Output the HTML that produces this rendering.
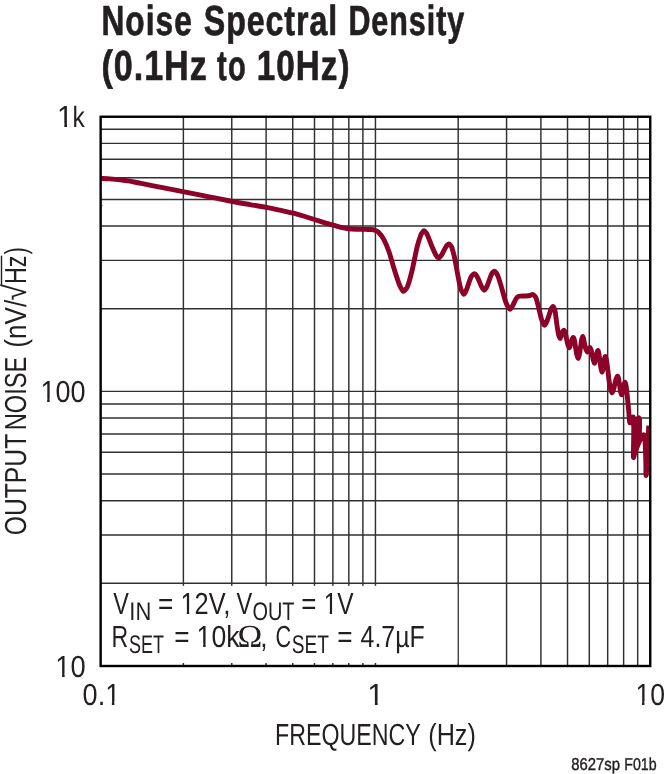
<!DOCTYPE html>
<html lang="en"><head><meta charset="utf-8"><title>Noise Spectral Density (0.1Hz to 10Hz)</title>
<style>html,body{margin:0;padding:0;background:#fff}svg{display:block;will-change:transform}</style></head>
<body>
<svg width="665" height="774" viewBox="0 0 665 774">
<rect width="665" height="774" fill="#fff"/>
<path d="M183.37,116.75V666.0M231.76,116.75V666.0M266.10,116.75V666.0M292.73,116.75V666.0M314.49,116.75V666.0M332.88,116.75V666.0M348.82,116.75V666.0M362.88,116.75V666.0M375.45,116.75V666.0M458.17,116.75V666.0M506.56,116.75V666.0M540.90,116.75V666.0M567.53,116.75V666.0M589.29,116.75V666.0M607.68,116.75V666.0M623.62,116.75V666.0M637.68,116.75V666.0M100.65,583.33H650.25M100.65,534.97H650.25M100.65,500.66H650.25M100.65,474.05H650.25M100.65,452.30H650.25M100.65,433.91H650.25M100.65,417.99H650.25M100.65,403.94H650.25M100.65,391.38H650.25M100.65,308.70H650.25M100.65,260.35H650.25M100.65,226.03H650.25M100.65,199.42H650.25M100.65,177.68H650.25M100.65,159.29H650.25M100.65,143.36H650.25M100.65,129.32H650.25" stroke="#303030" stroke-width="1.45" fill="none"/>
<rect x="101.65" y="585.8" width="355.65" height="77.2" fill="#fff"/>
<clipPath id="plot"><rect x="100.65" y="116.75" width="549.1" height="549.25"/></clipPath><g clip-path="url(#plot)">
<path d="M101.50,178.50 C102.92,178.57 106.92,178.68 110.00,178.90 C113.08,179.12 116.67,179.42 120.00,179.80 C123.33,180.18 126.67,180.63 130.00,181.20 C133.33,181.77 135.00,182.20 140.00,183.20 C145.00,184.20 152.83,185.80 160.00,187.20 C167.17,188.60 175.00,190.03 183.00,191.60 C191.00,193.17 199.73,194.95 208.00,196.60 C216.27,198.25 225.60,200.17 232.60,201.50 C239.60,202.83 244.37,203.62 250.00,204.60 C255.63,205.58 261.40,206.47 266.40,207.40 C271.40,208.33 275.48,209.23 280.00,210.20 C284.52,211.17 289.33,212.15 293.50,213.20 C297.67,214.25 301.25,215.37 305.00,216.50 C308.75,217.63 312.67,218.95 316.00,220.00 C319.33,221.05 322.00,221.90 325.00,222.80 C328.00,223.70 331.33,224.63 334.00,225.40 C336.67,226.17 338.58,226.85 341.00,227.40 C343.42,227.95 345.83,228.39 348.50,228.70 C351.17,229.01 354.15,229.13 357.00,229.25 C359.85,229.37 363.27,229.35 365.60,229.40 C367.93,229.45 369.43,229.40 371.00,229.55 C372.57,229.70 373.75,229.86 375.00,230.30 C376.25,230.74 377.08,230.77 378.50,232.20 C379.92,233.63 381.77,235.68 383.50,238.90 C385.23,242.12 387.10,246.38 388.90,251.50 C390.70,256.62 392.65,264.33 394.30,269.60 C395.95,274.87 397.65,279.98 398.80,283.10 C399.95,286.22 400.45,286.92 401.20,288.30 C401.95,289.68 402.58,291.20 403.30,291.40 C404.02,291.60 404.75,290.43 405.50,289.50 C406.25,288.57 406.67,289.12 407.80,285.80 C408.93,282.48 410.78,275.92 412.30,269.60 C413.82,263.28 415.53,253.53 416.90,247.90 C418.27,242.27 419.58,238.38 420.50,235.80 C421.42,233.22 421.80,233.23 422.40,232.40 C423.00,231.57 423.52,230.80 424.10,230.80 C424.68,230.80 425.30,231.60 425.90,232.40 C426.50,233.20 426.65,233.17 427.70,235.60 C428.75,238.03 430.85,243.78 432.20,247.00 C433.55,250.22 434.75,253.10 435.80,254.90 C436.85,256.70 437.75,257.55 438.50,257.80 C439.25,258.05 439.70,257.00 440.30,256.40 C440.90,255.80 441.20,255.73 442.10,254.20 C443.00,252.67 444.83,248.73 445.70,247.20 C446.57,245.67 446.78,245.55 447.30,245.00 C447.82,244.45 448.28,243.87 448.80,243.90 C449.32,243.93 449.85,244.48 450.40,245.20 C450.95,245.92 451.37,245.95 452.10,248.20 C452.83,250.45 453.88,254.40 454.80,258.70 C455.72,263.00 456.68,269.25 457.60,274.00 C458.52,278.75 459.53,284.20 460.30,287.20 C461.07,290.20 461.62,290.82 462.20,292.00 C462.78,293.18 463.28,294.25 463.80,294.30 C464.32,294.35 464.77,293.28 465.30,292.30 C465.83,291.32 466.13,290.75 467.00,288.40 C467.87,286.05 469.57,280.43 470.50,278.20 C471.43,275.97 471.93,275.75 472.60,275.00 C473.27,274.25 473.87,273.65 474.50,273.70 C475.13,273.75 475.73,274.33 476.40,275.30 C477.07,276.27 477.62,277.57 478.50,279.50 C479.38,281.43 480.93,285.33 481.70,286.90 C482.47,288.47 482.65,288.35 483.10,288.90 C483.55,289.45 483.95,290.27 484.40,290.20 C484.85,290.13 485.28,289.35 485.80,288.50 C486.32,287.65 486.62,287.32 487.50,285.10 C488.38,282.88 490.22,277.32 491.10,275.20 C491.98,273.08 492.25,273.08 492.80,272.40 C493.35,271.72 493.85,271.07 494.40,271.10 C494.95,271.13 495.45,271.62 496.10,272.60 C496.75,273.58 497.33,274.32 498.30,277.00 C499.27,279.68 500.70,284.63 501.90,288.70 C503.10,292.77 504.45,298.33 505.50,301.40 C506.55,304.47 507.43,305.78 508.20,307.10 C508.97,308.42 509.53,309.23 510.10,309.30 C510.67,309.37 511.08,308.28 511.60,307.50 C512.12,306.72 512.40,306.15 513.20,304.60 C514.00,303.05 515.57,299.53 516.40,298.20 C517.23,296.87 517.60,296.95 518.20,296.60 C518.80,296.25 518.65,296.20 520.00,296.10 C521.35,296.00 524.63,296.10 526.30,296.00 C527.97,295.90 528.98,295.75 530.00,295.50 C531.02,295.25 531.67,294.48 532.40,294.50 C533.13,294.52 533.77,294.93 534.40,295.60 C535.03,296.27 535.52,296.60 536.20,298.50 C536.88,300.40 537.65,303.65 538.50,307.00 C539.35,310.35 540.52,315.90 541.30,318.60 C542.08,321.30 542.67,322.07 543.20,323.20 C543.73,324.33 544.03,325.37 544.50,325.40 C544.97,325.43 545.42,324.57 546.00,323.40 C546.58,322.23 547.20,320.67 548.00,318.40 C548.80,316.13 550.13,311.62 550.80,309.80 C551.47,307.98 551.63,308.05 552.00,307.50 C552.37,306.95 552.65,306.42 553.00,306.50 C553.35,306.58 553.72,306.98 554.10,308.00 C554.48,309.02 554.85,309.93 555.30,312.60 C555.75,315.27 556.30,320.57 556.80,324.00 C557.30,327.43 557.90,331.10 558.30,333.20 C558.70,335.30 558.90,335.72 559.20,336.60 C559.50,337.48 559.78,338.57 560.10,338.50 C560.42,338.43 560.77,337.12 561.10,336.20 C561.43,335.28 561.77,333.87 562.10,333.00 C562.43,332.13 562.78,331.47 563.10,331.00 C563.42,330.53 563.70,330.08 564.00,330.20 C564.30,330.32 564.60,330.88 564.90,331.70 C565.20,332.52 565.40,333.28 565.80,335.10 C566.20,336.92 566.87,340.78 567.30,342.60 C567.73,344.42 568.07,345.13 568.40,346.00 C568.73,346.87 568.98,347.90 569.30,347.80 C569.62,347.70 569.95,346.48 570.30,345.40 C570.65,344.32 571.05,342.45 571.40,341.30 C571.75,340.15 572.08,339.15 572.40,338.50 C572.72,337.85 573.02,337.32 573.30,337.40 C573.58,337.48 573.83,338.10 574.10,339.00 C574.37,339.90 574.52,340.50 574.90,342.80 C575.28,345.10 575.98,350.50 576.40,352.80 C576.82,355.10 577.08,355.67 577.40,356.60 C577.72,357.53 578.00,358.57 578.30,358.40 C578.60,358.23 578.90,356.97 579.20,355.60 C579.50,354.23 579.70,352.80 580.10,350.20 C580.50,347.60 581.25,342.10 581.60,340.00 C581.95,337.90 582.00,338.18 582.20,337.60 C582.40,337.02 582.58,336.40 582.80,336.50 C583.02,336.60 583.25,337.18 583.50,338.20 C583.75,339.22 583.95,340.92 584.30,342.60 C584.65,344.28 585.22,346.97 585.60,348.30 C585.98,349.63 586.27,349.98 586.60,350.60 C586.93,351.22 587.25,352.22 587.60,352.00 C587.95,351.78 588.32,350.05 588.70,349.30 C589.08,348.55 589.52,347.45 589.90,347.50 C590.28,347.55 590.67,348.62 591.00,349.60 C591.33,350.58 591.52,351.63 591.90,353.40 C592.28,355.17 592.95,358.78 593.30,360.20 C593.65,361.62 593.78,361.42 594.00,361.90 C594.22,362.38 594.37,363.38 594.60,363.10 C594.83,362.82 595.10,361.55 595.40,360.20 C595.70,358.85 596.08,356.42 596.40,355.00 C596.72,353.58 597.03,352.45 597.30,351.70 C597.57,350.95 597.77,350.38 598.00,350.50 C598.23,350.62 598.47,351.25 598.70,352.40 C598.93,353.55 599.08,355.10 599.40,357.40 C599.72,359.70 600.27,364.10 600.60,366.20 C600.93,368.30 601.15,369.02 601.40,370.00 C601.65,370.98 601.87,372.13 602.10,372.10 C602.33,372.07 602.55,371.13 602.80,369.80 C603.05,368.47 603.32,365.98 603.60,364.10 C603.88,362.22 604.23,359.78 604.50,358.50 C604.77,357.22 604.97,356.52 605.20,356.40 C605.43,356.28 605.65,356.95 605.90,357.80 C606.15,358.65 606.37,359.38 606.70,361.50 C607.03,363.62 607.50,367.27 607.90,370.50 C608.30,373.73 608.67,377.85 609.10,380.90 C609.53,383.95 610.13,387.08 610.50,388.80 C610.87,390.52 611.03,390.53 611.30,391.20 C611.57,391.87 611.82,392.87 612.10,392.80 C612.38,392.73 612.70,391.58 613.00,390.80 C613.30,390.02 613.45,389.87 613.90,388.10 C614.35,386.33 615.22,382.00 615.70,380.20 C616.18,378.40 616.47,377.97 616.80,377.30 C617.13,376.63 617.42,376.05 617.70,376.20 C617.98,376.35 618.23,377.02 618.50,378.20 C618.77,379.38 618.98,381.17 619.30,383.30 C619.62,385.43 620.10,389.32 620.40,391.00 C620.70,392.68 620.88,392.77 621.10,393.40 C621.32,394.03 621.48,394.93 621.70,394.80 C621.92,394.67 622.13,393.72 622.40,392.60 C622.67,391.48 623.00,389.57 623.30,388.10 C623.60,386.63 623.93,384.80 624.20,383.80 C624.47,382.80 624.67,382.13 624.90,382.10 C625.13,382.07 625.33,382.52 625.60,383.60 C625.87,384.68 626.15,385.83 626.50,388.60 C626.85,391.37 627.32,396.30 627.70,400.20 C628.08,404.10 628.53,408.87 628.80,412.00 C629.07,415.13 629.13,417.25 629.30,419.00 C629.47,420.75 629.58,421.95 629.80,422.50 C630.02,423.05 630.30,422.88 630.60,422.30 C630.90,421.72 631.22,419.90 631.60,419.00 C631.98,418.10 632.57,416.82 632.90,416.90 C633.23,416.98 633.47,416.32 633.60,419.50 C633.73,422.68 633.73,429.85 633.70,436.00 C633.67,442.15 633.25,453.40 633.40,456.40 C633.55,459.40 634.00,455.57 634.60,454.00 C635.20,452.43 635.98,449.57 637.00,447.00 C638.02,444.43 639.78,440.48 640.70,438.60 C641.62,436.72 641.98,436.32 642.50,435.70 C643.02,435.08 643.42,434.52 643.80,434.90 C644.18,435.28 644.55,436.08 644.80,438.00 C645.05,439.92 645.13,442.40 645.30,446.40 C645.47,450.40 645.68,457.23 645.80,462.00 C645.92,466.77 645.87,473.67 646.00,475.00 C646.13,476.33 646.28,474.77 646.60,470.00 C646.92,465.23 647.55,453.78 647.90,446.40 C648.25,439.02 648.57,429.15 648.70,425.70" stroke="#8d0229" stroke-width="4.9" fill="none" stroke-linejoin="round" stroke-linecap="butt"/>
<path d="M634.6,424 L635.6,421.5 L637.4,418.6 L638.9,417.9 L639.6,420 L639.4,439 L636.8,447 L636.4,423" stroke="#8d0229" stroke-width="4.9" fill="none" stroke-linejoin="round" stroke-linecap="butt"/>
</g>
<circle cx="102.4" cy="205.6" r="0.55" fill="#8d0229" opacity="0.55"/>
<rect x="100.65" y="116.75" width="549.6" height="549.25" fill="none" stroke="#000" stroke-width="2.4"/>
<text y="34.9" font-family='"Liberation Sans", Arial, Helvetica, sans-serif' font-size="42.0" font-weight="bold" fill="#231f20" text-rendering="geometricPrecision" stroke="#231f20" stroke-width="0.7" stroke-linejoin="round"><tspan x="101.43" letter-spacing="1.451" textLength="91.55" lengthAdjust="spacingAndGlyphs">Noise</tspan> <tspan x="203.84" letter-spacing="1.214" textLength="134.29" lengthAdjust="spacingAndGlyphs">Spectral</tspan> <tspan x="348.40" letter-spacing="1.305" textLength="116.76" lengthAdjust="spacingAndGlyphs">Density</tspan></text>
<text y="79.9" font-family='"Liberation Sans", Arial, Helvetica, sans-serif' font-size="42.0" font-weight="bold" fill="#231f20" text-rendering="geometricPrecision" stroke="#231f20" stroke-width="0.7" stroke-linejoin="round"><tspan x="101.38" letter-spacing="1.266" textLength="106.40" lengthAdjust="spacingAndGlyphs">(0.1Hz</tspan> <tspan x="217.05" letter-spacing="1.974" textLength="30.13" lengthAdjust="spacingAndGlyphs">to</tspan> <tspan x="256.63" letter-spacing="1.411" textLength="94.11" lengthAdjust="spacingAndGlyphs">10Hz)</tspan></text>
<text y="126.9" font-family='"Liberation Sans", Arial, Helvetica, sans-serif' font-size="30.4" font-weight="normal" fill="#231f20" text-rendering="geometricPrecision" ><tspan x="57.06" y="126.9" textLength="16.18" lengthAdjust="spacingAndGlyphs">1</tspan><tspan x="72.42" font-size="29.2" textLength="12.26" lengthAdjust="spacingAndGlyphs">k</tspan></text>
<text y="401.9" font-family='"Liberation Sans", Arial, Helvetica, sans-serif' font-size="30.4" font-weight="normal" fill="#231f20" text-rendering="geometricPrecision" ><tspan x="40.46" y="401.9" textLength="45.02" lengthAdjust="spacingAndGlyphs">100</tspan></text>
<text y="676.8" font-family='"Liberation Sans", Arial, Helvetica, sans-serif' font-size="30.4" font-weight="normal" fill="#231f20" text-rendering="geometricPrecision" ><tspan x="55.34" y="676.8" textLength="30.34" lengthAdjust="spacingAndGlyphs">10</tspan></text>
<text y="704.9" font-family='"Liberation Sans", Arial, Helvetica, sans-serif' font-size="30.4" font-weight="normal" fill="#231f20" text-rendering="geometricPrecision" ><tspan x="82.59" y="704.9" textLength="37.61" lengthAdjust="spacingAndGlyphs">0.1</tspan></text>
<text y="704.9" font-family='"Liberation Sans", Arial, Helvetica, sans-serif' font-size="30.4" font-weight="normal" fill="#231f20" text-rendering="geometricPrecision" ><tspan x="367.35" y="704.9" textLength="16.85" lengthAdjust="spacingAndGlyphs">1</tspan></text>
<text y="704.9" font-family='"Liberation Sans", Arial, Helvetica, sans-serif' font-size="30.4" font-weight="normal" fill="#231f20" text-rendering="geometricPrecision" ><tspan x="635.40" y="704.9" textLength="29.54" lengthAdjust="spacingAndGlyphs">10</tspan></text>
<text y="744.8" font-family='"Liberation Sans", Arial, Helvetica, sans-serif' font-size="30.4" font-weight="normal" fill="#231f20" text-rendering="geometricPrecision" ><tspan x="275.00" textLength="145.22" lengthAdjust="spacingAndGlyphs">FREQUENCY</tspan> <tspan x="428.24" textLength="47.63" lengthAdjust="spacingAndGlyphs">(Hz)</tspan></text>
<text transform="translate(26.1,534) rotate(-90)" y="0" font-family='"Liberation Sans", Arial, Helvetica, sans-serif' font-size="30.4" font-weight="normal" fill="#231f20" text-rendering="geometricPrecision" ><tspan x="-1.21" textLength="100.97" lengthAdjust="spacingAndGlyphs">OUTPUT</tspan> <tspan x="103.65" textLength="73.68" lengthAdjust="spacingAndGlyphs">NOISE</tspan> <tspan x="186.28" textLength="48.02" lengthAdjust="spacingAndGlyphs">(nV/</tspan><tspan x="233.61" y="0.2" font-size="32.5" textLength="16.48" lengthAdjust="spacingAndGlyphs">√</tspan><tspan x="249.88" y="0" textLength="28.60" lengthAdjust="spacingAndGlyphs">Hz</tspan><tspan x="279.62" textLength="7.47" lengthAdjust="spacingAndGlyphs">)</tspan></text>
<path transform="translate(26.1,534) rotate(-90)" d="M249.2,-24.6H278.3" stroke="#231f20" stroke-width="1.4" fill="none"/>
<text y="613.5" font-family='"Liberation Sans", Arial, Helvetica, sans-serif' font-size="30.4" font-weight="normal" fill="#231f20" text-rendering="geometricPrecision" ><tspan x="113.21" textLength="15.61" lengthAdjust="spacingAndGlyphs">V</tspan><tspan x="129.36" y="619.9" font-size="25.5" textLength="21.96" lengthAdjust="spacingAndGlyphs">IN</tspan> <tspan x="158.01" y="613.5" textLength="15.28" lengthAdjust="spacingAndGlyphs">=</tspan> <tspan x="180.51" y="613.5" textLength="45.16" lengthAdjust="spacingAndGlyphs">12V</tspan><tspan x="223.23" textLength="7.27" lengthAdjust="spacingAndGlyphs">,</tspan> <tspan x="236.41" textLength="15.71" lengthAdjust="spacingAndGlyphs">V</tspan><tspan x="252.42" y="619.9" font-size="25.5" textLength="42.13" lengthAdjust="spacingAndGlyphs">OUT</tspan> <tspan x="301.22" y="613.5" textLength="15.16" lengthAdjust="spacingAndGlyphs">=</tspan> <tspan x="323.70" y="613.5" textLength="29.95" lengthAdjust="spacingAndGlyphs">1V</tspan></text>
<text y="647.2" font-family='"Liberation Sans", Arial, Helvetica, sans-serif' font-size="30.4" font-weight="normal" fill="#231f20" text-rendering="geometricPrecision" ><tspan x="111.50" textLength="16.71" lengthAdjust="spacingAndGlyphs">R</tspan><tspan x="128.92" y="653.4" font-size="25.5" textLength="35.00" lengthAdjust="spacingAndGlyphs">SET</tspan> <tspan x="174.21" y="647.2" textLength="15.28" lengthAdjust="spacingAndGlyphs">=</tspan> <tspan x="196.60" y="647.2" textLength="42.90" lengthAdjust="spacingAndGlyphs">10k</tspan><tspan x="237.48" y="647.4" font-size="32" font-family='"Liberation Serif", "DejaVu Serif", serif' textLength="24.78" lengthAdjust="spacingAndGlyphs">Ω</tspan><tspan x="260.33" y="647.2" textLength="7.27" lengthAdjust="spacingAndGlyphs">,</tspan> <tspan x="275.53" textLength="15.62" lengthAdjust="spacingAndGlyphs">C</tspan><tspan x="291.86" y="653.4" font-size="25.5" textLength="37.18" lengthAdjust="spacingAndGlyphs">SET</tspan> <tspan x="337.21" y="647.2" textLength="15.28" lengthAdjust="spacingAndGlyphs">=</tspan> <tspan x="360.59" y="647.2" textLength="64.20" lengthAdjust="spacingAndGlyphs">4.7µF</tspan></text>
<text y="769.5" font-family='"Liberation Sans", Arial, Helvetica, sans-serif' font-size="17.2" font-weight="normal" fill="#231f20" text-rendering="geometricPrecision" stroke="#231f20" stroke-width="0.4"><tspan x="571.15" textLength="48.80" lengthAdjust="spacingAndGlyphs">8627sp</tspan> <tspan x="624.26" textLength="32.30" lengthAdjust="spacingAndGlyphs">F01b</tspan></text>
<path d="M57.94,123.56H64.30V127.51H57.94ZM67.00,123.56H73.07V127.51H67.00ZM41.27,398.56H47.17V402.51H41.27ZM49.68,398.56H55.30V402.51H49.68ZM56.15,673.46H62.11V677.41H56.15ZM64.65,673.46H70.34V677.41H64.65ZM105.97,701.56H111.88V705.51H105.97ZM114.40,701.56H120.04V705.51H114.40ZM368.26,701.56H374.88V705.51H368.26ZM377.70,701.56H384.01V705.51H377.70ZM636.20,701.56H642.00V705.51H636.20ZM644.47,701.56H650.01V705.51H644.47ZM181.27,610.16H186.82V614.11H181.27ZM189.18,610.16H194.48V614.11H189.18ZM324.43,610.16H329.78V614.11H324.43ZM332.06,610.16H337.17V614.11H332.06ZM197.40,643.86H203.21V647.81H197.40ZM205.69,643.86H211.24V647.81H205.69Z" fill="#fff"/>
</svg>
</body></html>
